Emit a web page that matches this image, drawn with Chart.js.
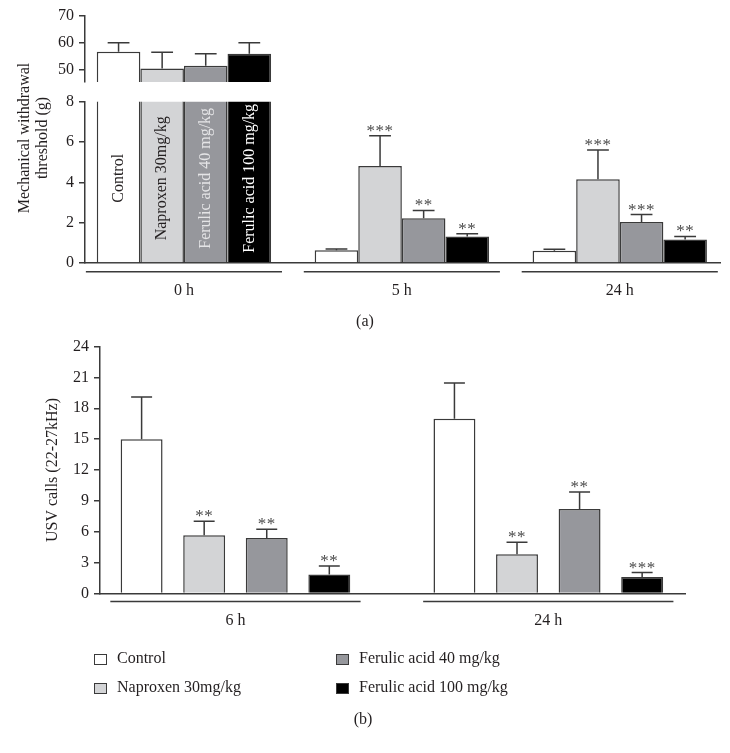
<!DOCTYPE html>
<html>
<head>
<meta charset="utf-8">
<script src="https://cdn.jsdelivr.net/npm/chart.js@4.4.0/dist/chart.umd.min.js"></script>
<style>
  html, body { margin: 0; padding: 0; background: #fff; }
  #page { position: relative; width: 730px; height: 753px; overflow: hidden; }
  .box { position: absolute; left: 0; width: 730px; }
</style>
</head>
<body>
<div id="page">
  <div class="box" style="top:0;height:330px"><canvas id="chartALow"></canvas></div>
  <div class="box" style="top:0;height:100px"><canvas id="chartAHigh"></canvas></div>
  <div class="box" style="top:330px;height:423px"><canvas id="chartB"></canvas></div>
</div>
<script>
// ------------------------------------------------------------------
// Data
// ------------------------------------------------------------------
const seriesNames = ['Control', 'Naproxen 30mg/kg', 'Ferulic acid 40 mg/kg', 'Ferulic acid 100 mg/kg'];

// (a) mechanical withdrawal threshold (g)
const timeLabelsA = ['0 h', '5 h', '24 h'];
const controlA    = [56.7, 0.63, 0.61];
const naproxenA   = [50.4, 4.81, 4.15];
const ferulic40A  = [51.5, 2.22, 2.03];
const ferulic100A = [55.9, 1.32, 1.16];
const controlErrA    = [60.0, 0.69, 0.68];
const naproxenErrA   = [56.5, 6.31, 5.60];
const ferulic40ErrA  = [55.9, 2.61, 2.40];
const ferulic100ErrA = [60.0, 1.45, 1.32];
const controlStarsA    = ['', '', ''];
const naproxenStarsA   = ['', '***', '***'];
const ferulic40StarsA  = ['', '**', '***'];
const ferulic100StarsA = ['', '**', '**'];
const ticksAHigh = [50, 60, 70];
const ticksALow  = [0, 1, 2, 3, 4, 5, 6, 7, 8];

// (b) USV calls (22-27kHz)
const timeLabelsB = ['6 h', '24 h'];
const controlB    = [15.0, 16.99];
const naproxenB   = [5.66, 3.82];
const ferulic40B  = [5.40, 8.21];
const ferulic100B = [1.84, 1.61];
const controlErrB    = [19.09, 20.45];
const naproxenErrB   = [7.02, 4.98];
const ferulic40ErrB  = [6.24, 9.86];
const ferulic100ErrB = [2.68, 2.04];
const controlStarsB    = ['', ''];
const naproxenStarsB   = ['**', '**'];
const ferulic40StarsB  = ['**', '**'];
const ferulic100StarsB = ['**', '***'];
const ticksB = [0, 3, 6, 9, 12, 15, 18, 21, 24];

const titleA = ['Mechanical withdrawal', 'threshold (g)'];
const titleB = 'USV calls (22-27kHz)';

// ------------------------------------------------------------------
// Styling
// ------------------------------------------------------------------
const FONT = '"Liberation Serif", "DejaVu Serif", serif';
const INK = '#231f20';
const LINE = '#3a3a3a';
const fills = ['#ffffff', '#d3d4d6', '#96979c', '#000000'];
const insideInk = [INK, INK, '#e4e4e6', '#ffffff'];

Chart.defaults.font.family = FONT;
Chart.defaults.font.size = 16;
Chart.defaults.color = INK;
Chart.defaults.animation = false;

function makeDatasets(values, errors, stars, keep, barPct) {
  return seriesNames.map((name, s) => ({
    label: name,
    data: values[s].map((v, i) => ({ x: i, y: keep(v) ? v : null })),
    errors: errors[s],
    stars: stars[s],
    backgroundColor: fills[s],
    borderColor: LINE,
    borderWidth: 1.5,
    borderSkipped: 'start',
    categoryPercentage: 0.8,
    barPercentage: barPct,
    clip: 0,
  }));
}

function xScale(labels, min, max, opts) {
  return Object.assign({
    type: 'linear',
    min, max,
    offset: false,
    afterBuildTicks: s => { s.ticks = labels.map((_, i) => ({ value: i })); },
    ticks: { callback: v => labels[v], maxRotation: 0, autoSkip: false, padding: 18, color: INK, font: { size: 16 } },
    grid: { display: true, offset: false, drawOnChartArea: false, drawTicks: false },
    border: { color: LINE, width: 1.5 },
  }, opts || {});
}

function yScale(ticks, min, max, width, opts) {
  return Object.assign({
    min, max,
    afterBuildTicks: s => { s.ticks = ticks.map(v => ({ value: v })); },
    afterFit: s => { s.width = width; },
    ticks: { padding: 5, color: INK, font: { size: 16 } },
    grid: { drawOnChartArea: false, drawTicks: true, tickLength: 6, color: LINE, lineWidth: 1.5 },
    border: { color: LINE, width: 1.5 },
  }, opts || {});
}

// error bars + significance stars
const errorBars = {
  id: 'errorBars',
  afterDatasetsDraw(chart) {
    const { ctx } = chart;
    const y = chart.scales.y;
    ctx.save();
    chart.data.datasets.forEach((ds, s) => {
      chart.getDatasetMeta(s).data.forEach((bar, i) => {
        const v = ds.data[i].y;
        const e = ds.errors[i];
        if (v == null || e == null || e > y.max) return;
        const top = y.getPixelForValue(e);
        const half = bar.width * 0.25;
        ctx.strokeStyle = LINE;
        ctx.lineWidth = 1.5;
        ctx.beginPath();
        ctx.moveTo(bar.x, bar.y);
        ctx.lineTo(bar.x, top);
        ctx.moveTo(bar.x - half, top);
        ctx.lineTo(bar.x + half, top);
        ctx.stroke();
        if (ds.stars[i]) {
          ctx.fillStyle = '#4a4a4a';
          ctx.font = '17px ' + FONT;
          ctx.letterSpacing = '0.5px';
          ctx.textAlign = 'center';
          ctx.textBaseline = 'alphabetic';
          ctx.fillText(ds.stars[i], bar.x, top);
          ctx.letterSpacing = '0px';
        }
      });
    });
    ctx.restore();
  },
};

// line under each time group
const groupLines = (halfWidth, gap) => ({
  id: 'groupLines',
  afterDraw(chart) {
    const { ctx, chartArea } = chart;
    const x = chart.scales.x;
    const yy = chartArea.bottom + gap;
    ctx.save();
    ctx.strokeStyle = LINE;
    ctx.lineWidth = 1.5;
    x.ticks.forEach(t => {
      ctx.beginPath();
      ctx.moveTo(x.getPixelForValue(t.value - halfWidth), yy);
      ctx.lineTo(x.getPixelForValue(t.value + halfWidth), yy);
      ctx.stroke();
    });
    ctx.restore();
  },
});

function drawText(ctx, text, x, y, color, rotate) {
  ctx.save();
  ctx.translate(x, y);
  if (rotate) ctx.rotate(-Math.PI / 2);
  ctx.fillStyle = color;
  ctx.font = '16px ' + FONT;
  ctx.textAlign = 'center';
  ctx.textBaseline = 'middle';
  ctx.fillText(text, 0, 0);
  ctx.restore();
}

// ------------------------------------------------------------------
// (a) lower segment 0-8, carries the axis title and bar names
// ------------------------------------------------------------------
const valuesA = [controlA, naproxenA, ferulic40A, ferulic100A];
const errorsA = [controlErrA, naproxenErrA, ferulic40ErrA, ferulic100ErrA];
const starsA  = [controlStarsA, naproxenStarsA, ferulic40StarsA, ferulic100StarsA];

const panelALabels = {
  id: 'panelALabels',
  afterDraw(chart) {
    const { ctx } = chart;
    const y = chart.scales.y;
    chart.data.datasets.forEach((ds, s) => {
      const bar = chart.getDatasetMeta(s).data[0];
      drawText(ctx, ds.label, bar.x, y.getPixelForValue(4.2), insideInk[s], true);
    });
    drawText(ctx, titleA[0], 25, 138, INK, true);
    drawText(ctx, titleA[1], 43, 138, INK, true);
    drawText(ctx, '(a)', 365, 322, INK, false);
  },
};

new Chart(document.getElementById('chartALow'), {
  type: 'bar',
  data: { datasets: makeDatasets(valuesA, errorsA, starsA, () => true, 1.0) },
  options: {
    responsive: true,
    maintainAspectRatio: false,
    layout: { padding: { top: 101.7, bottom: 27, left: 0, right: 10 } },
    plugins: { legend: { display: false }, tooltip: { enabled: false } },
    scales: {
      x: xScale(timeLabelsA, -0.454, 2.46, { afterFit: s => { s.height = 40; } }),
      y: yScale(ticksALow, 0, 8, 85),
    },
  },
  plugins: [errorBars, groupLines(0.45, 8.7), panelALabels],
});

// ------------------------------------------------------------------
// (a) upper segment 45-70
// ------------------------------------------------------------------
new Chart(document.getElementById('chartAHigh'), {
  type: 'bar',
  data: { datasets: makeDatasets(valuesA, errorsA, starsA, v => v > 45.4, 1.0) },
  options: {
    responsive: true,
    maintainAspectRatio: false,
    layout: { padding: { top: 16, bottom: 18, left: 0, right: 10 } },
    plugins: { legend: { display: false }, tooltip: { enabled: false } },
    scales: {
      x: xScale(timeLabelsA, -0.454, 2.46, { display: false }),
      y: yScale(ticksAHigh, 45.4, 70, 85),
    },
  },
  plugins: [errorBars],
});

// ------------------------------------------------------------------
// (b) USV calls
// ------------------------------------------------------------------
const valuesB = [controlB, naproxenB, ferulic40B, ferulic100B];
const errorsB = [controlErrB, naproxenErrB, ferulic40ErrB, ferulic100ErrB];
const starsB  = [controlStarsB, naproxenStarsB, ferulic40StarsB, ferulic100StarsB];

// two-column legend, filled column by column
const legendB = {
  id: 'legendB',
  afterDraw(chart) {
    const { ctx } = chart;
    chart.data.datasets.forEach((ds, s) => {
      const x = s < 2 ? 94 : 336;
      const y = s % 2 === 0 ? 329 : 358;
      ctx.save();
      ctx.fillStyle = ds.backgroundColor;
      ctx.strokeStyle = LINE;
      ctx.lineWidth = 1;
      ctx.fillRect(x, y - 5, 13, 11);
      ctx.strokeRect(x + 0.5, y - 4.5, 12, 10);
      ctx.fillStyle = INK;
      ctx.font = '16px ' + FONT;
      ctx.textAlign = 'left';
      ctx.textBaseline = 'middle';
      ctx.fillText(ds.label, x + 23, y);
      ctx.restore();
    });
    drawText(ctx, '(b)', 363, 390, INK, false);
  },
};

new Chart(document.getElementById('chartB'), {
  type: 'bar',
  data: { datasets: makeDatasets(valuesB, errorsB, starsB, () => true, 0.67) },
  options: {
    responsive: true,
    maintainAspectRatio: false,
    layout: { padding: { top: 16.5, bottom: 122.5, left: 0, right: 45 } },
    plugins: { legend: { display: false }, tooltip: { enabled: false } },
    scales: {
      x: xScale(timeLabelsB, -0.433, 1.437, { afterFit: s => { s.height = 37; } }),
      y: yScale(ticksB, 0, 24, 100, {
        title: { display: true, text: titleB, color: INK, font: { size: 16 }, padding: { top: 43.4, bottom: 0 } },
      }),
    },
  },
  plugins: [errorBars, groupLines(0.4, 8), legendB],
});
</script>
</body>
</html>
